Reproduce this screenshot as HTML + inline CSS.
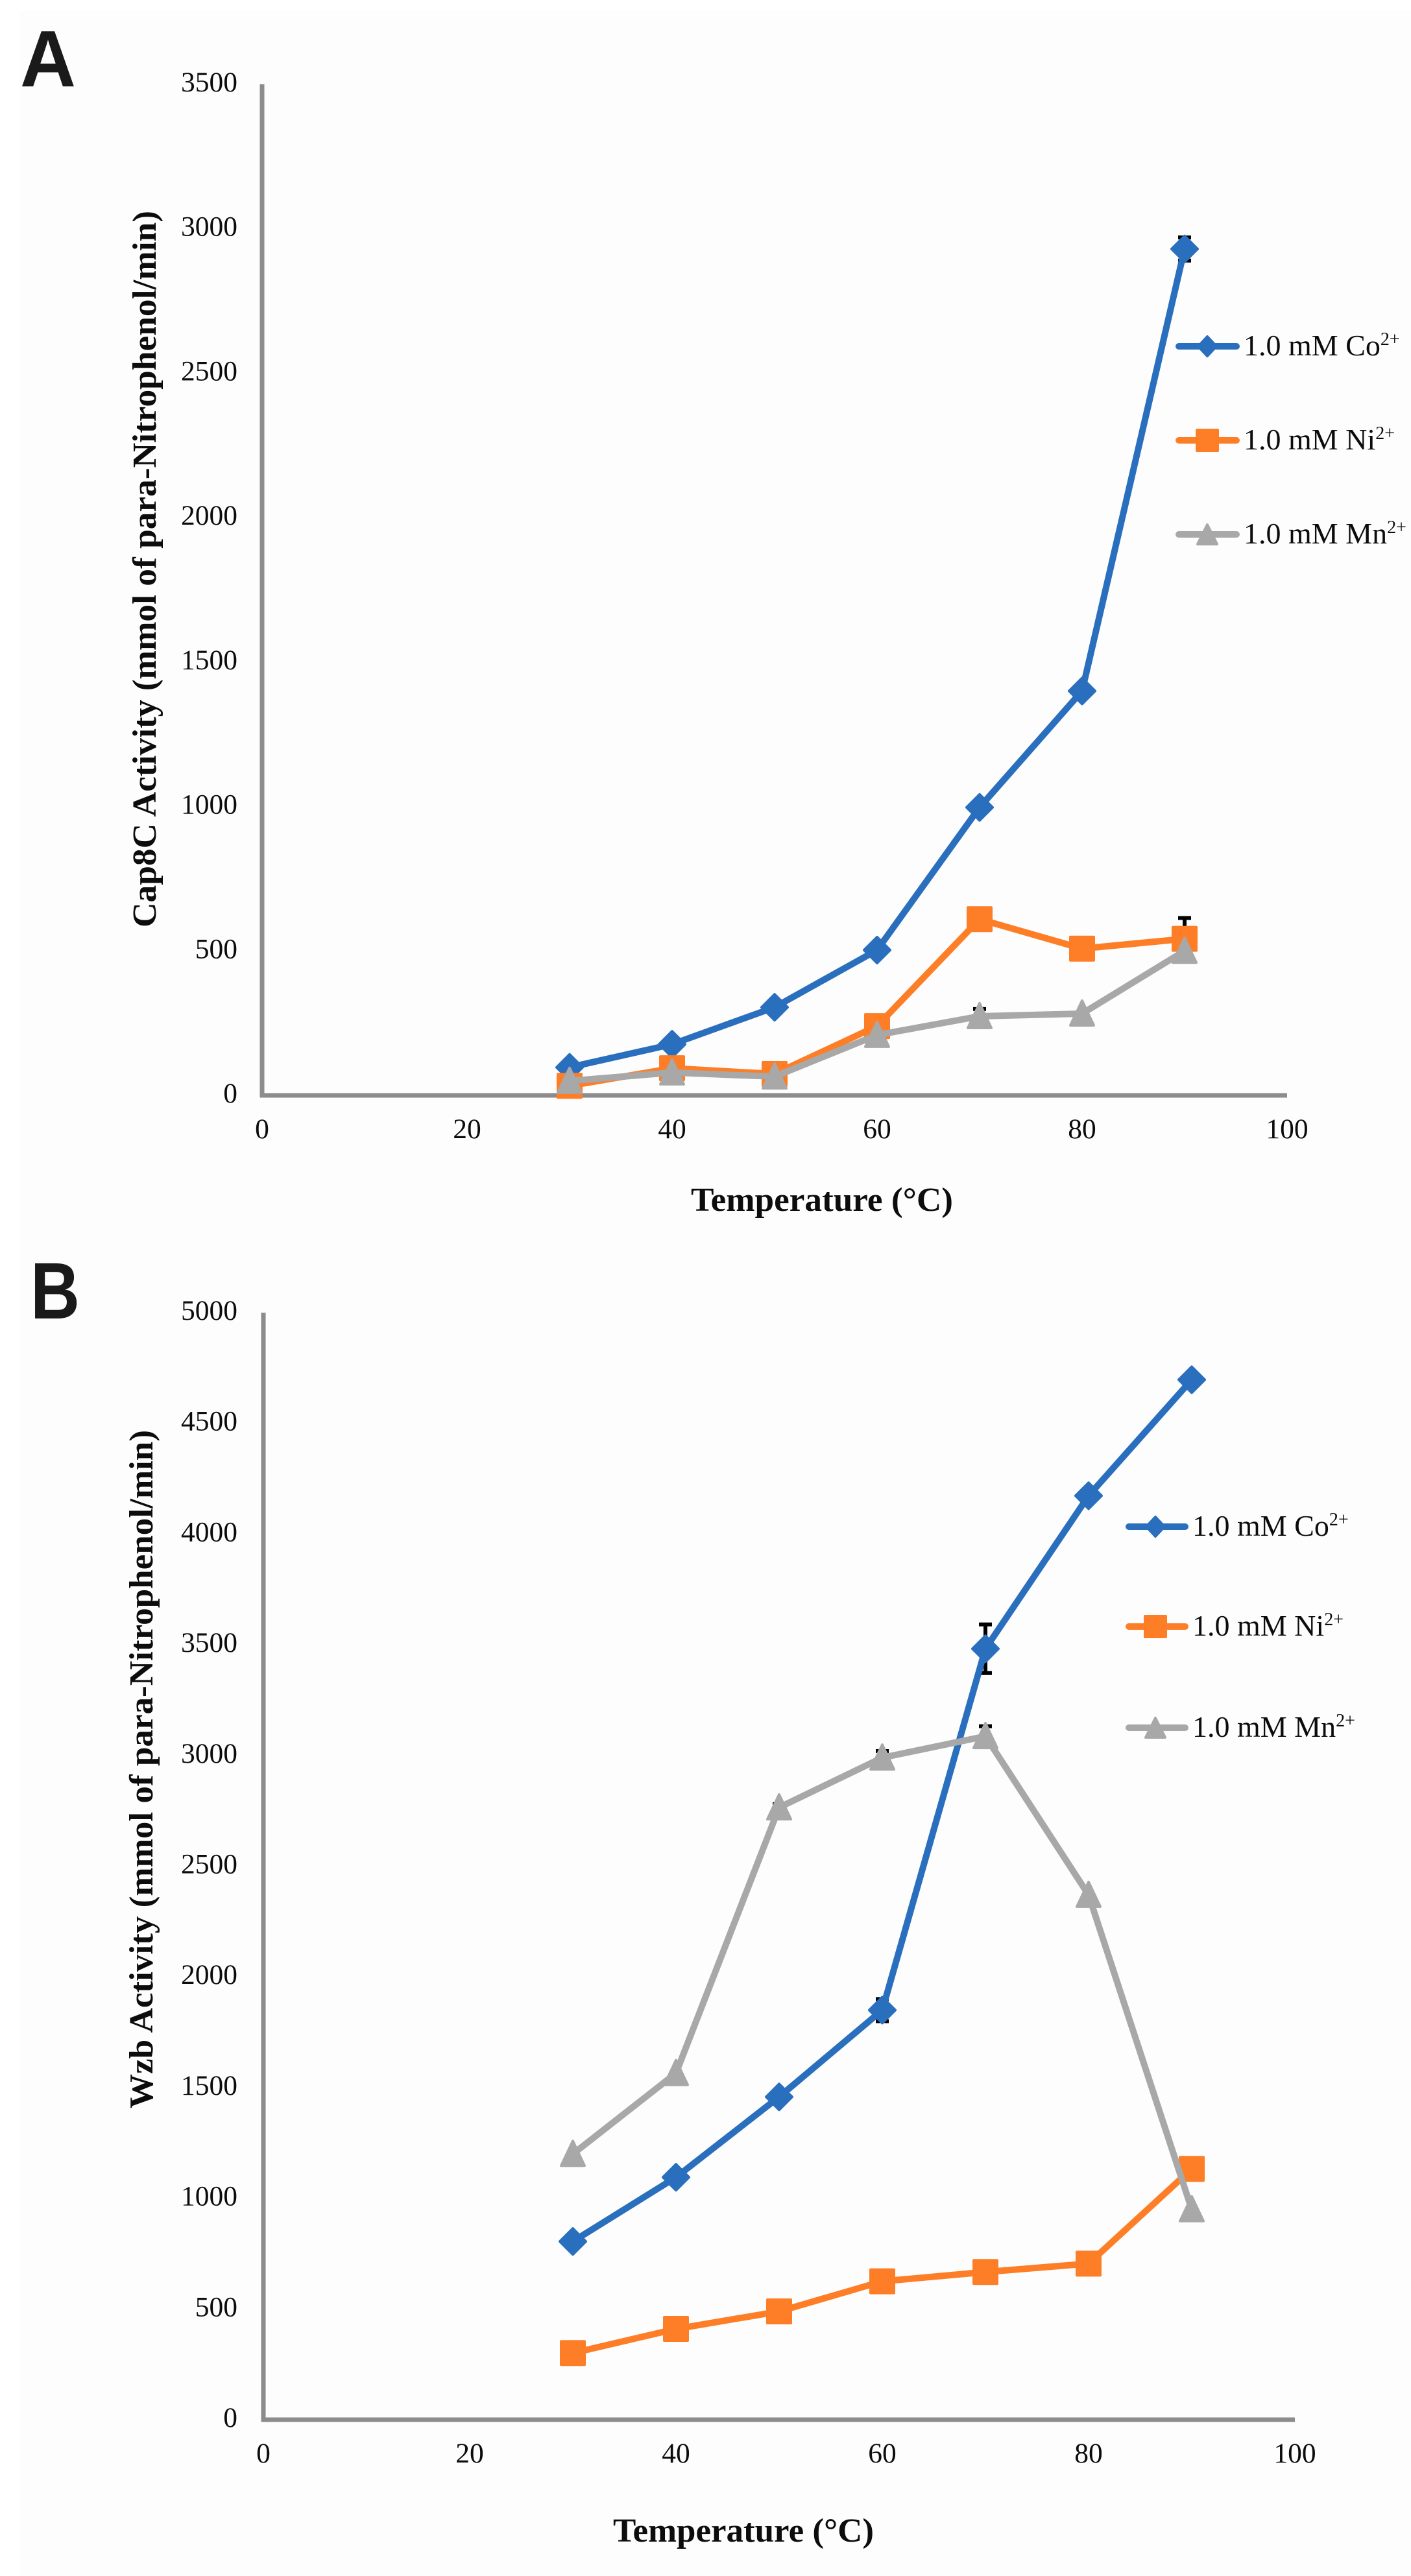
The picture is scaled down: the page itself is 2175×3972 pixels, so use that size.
<!DOCTYPE html>
<html lang="en">
<head>
<meta charset="utf-8">
<title>Cap8C and Wzb activity vs temperature</title>
<style>
html,body{margin:0;padding:0;background:#fff;}
svg{display:block;}
text{font-family:"Liberation Serif",serif;fill:#0c0c0c;}
.tick{font-size:43.5px;}
.axis-title{font-size:52px;font-weight:bold;}
.legend-text{font-size:46px;}
.panel-letter{font-family:"Liberation Sans",sans-serif;font-size:123px;font-weight:bold;fill:#1a1a1a;}
</style>
</head>
<body>
<svg id="figure" xmlns="http://www.w3.org/2000/svg" width="2175" height="3972" viewBox="0 0 2175 3972">
  <rect x="30" y="17" width="2145" height="3955" fill="#fdfdfd"/>

  <text class="panel-letter" x="31" y="133" textLength="86" lengthAdjust="spacingAndGlyphs">A</text>
  <text class="panel-letter" x="47" y="2033" textLength="76" lengthAdjust="spacingAndGlyphs">B</text>

  <g id="panel-a"></g>
  <g id="panel-b"></g>

  <text class="axis-title" transform="translate(240,1430) rotate(-90)" textLength="1105" lengthAdjust="spacingAndGlyphs">Cap8C Activity (mmol of para-Nitrophenol/min)</text>
  <text class="axis-title" x="1065" y="1867" textLength="404" lengthAdjust="spacingAndGlyphs">Temperature (°C)</text>
  <text class="axis-title" transform="translate(235,3251) rotate(-90)" textLength="1046" lengthAdjust="spacingAndGlyphs">Wzb Activity (mmol of para-Nitrophenol/min)</text>
  <text class="axis-title" x="945" y="3919" textLength="402" lengthAdjust="spacingAndGlyphs">Temperature (°C)</text>

  <g>
    <g>
      <line x1="1817" y1="534" x2="1906" y2="534" stroke="#2a6fbd" stroke-width="10" stroke-linecap="round"/>
      <polygon points="1861,519 1875,534 1861,549 1847,534" fill="#2a6fbd" stroke="#2a6fbd" stroke-width="4" stroke-linejoin="round"/>
      <text class="legend-text" x="1917" y="548">1.0 mM Co<tspan font-size="28" dy="-16">2+</tspan></text>
    </g>
    <g>
      <line x1="1817" y1="679" x2="1906" y2="679" stroke="#fd7e26" stroke-width="10" stroke-linecap="round"/>
      <rect x="1845" y="663" width="32" height="32" fill="#fd7e26" stroke="#fd7e26" stroke-width="4" stroke-linejoin="round"/>
      <text class="legend-text" x="1917" y="693">1.0 mM Ni<tspan font-size="28" dy="-16">2+</tspan></text>
    </g>
    <g>
      <line x1="1817" y1="824" x2="1906" y2="824" stroke="#a8a8a8" stroke-width="10" stroke-linecap="round"/>
      <polygon points="1861,809 1876,839 1846,839" fill="#a8a8a8" stroke="#a8a8a8" stroke-width="4" stroke-linejoin="round"/>
      <text class="legend-text" x="1917" y="838">1.0 mM Mn<tspan font-size="28" dy="-16">2+</tspan></text>
    </g>
  </g>

  <g>
    <g>
      <line x1="1740" y1="2354" x2="1827" y2="2354" stroke="#2a6fbd" stroke-width="10" stroke-linecap="round"/>
      <polygon points="1781,2339 1795,2354 1781,2369 1767,2354" fill="#2a6fbd" stroke="#2a6fbd" stroke-width="4" stroke-linejoin="round"/>
      <text class="legend-text" x="1838" y="2368">1.0 mM Co<tspan font-size="28" dy="-16">2+</tspan></text>
    </g>
    <g>
      <line x1="1740" y1="2508" x2="1827" y2="2508" stroke="#fd7e26" stroke-width="10" stroke-linecap="round"/>
      <rect x="1765" y="2492" width="32" height="32" fill="#fd7e26" stroke="#fd7e26" stroke-width="4" stroke-linejoin="round"/>
      <text class="legend-text" x="1838" y="2522">1.0 mM Ni<tspan font-size="28" dy="-16">2+</tspan></text>
    </g>
    <g>
      <line x1="1740" y1="2664" x2="1827" y2="2664" stroke="#a8a8a8" stroke-width="10" stroke-linecap="round"/>
      <polygon points="1781,2649 1796,2679 1766,2679" fill="#a8a8a8" stroke="#a8a8a8" stroke-width="4" stroke-linejoin="round"/>
      <text class="legend-text" x="1838" y="2678">1.0 mM Mn<tspan font-size="28" dy="-16">2+</tspan></text>
    </g>
  </g>
</svg>

<script>
// Shared categories and tick labels
const temperatures = [30, 40, 50, 60, 70, 80, 90];
const xTickLabels = [0, 20, 40, 60, 80, 100];
const yTickLabelsA = [0, 500, 1000, 1500, 2000, 2500, 3000, 3500];
const yTickLabelsB = [0, 500, 1000, 1500, 2000, 2500, 3000, 3500, 4000, 4500, 5000];

// Panel A series values
const coValuesA = [97, 177, 305, 503, 997, 1400, 2930];
const niValuesA = [33, 94, 74, 240, 610, 508, 542];
const mnValuesA = [50, 79, 65, 209, 274, 283, 500];
const coErrorsA = [0, 0, 0, 0, 0, 0, 40];
const niErrorsA = [0, 0, 0, 0, 0, 0, 72];
const mnErrorsA = [0, 0, 0, 0, 25, 0, 0];

// Panel B series values
const coValuesB = [805, 1095, 1458, 1850, 3482, 4173, 4697];
const niValuesB = [301, 410, 489, 625, 667, 705, 1133];
const mnValuesB = [1200, 1565, 2765, 2990, 3087, 2370, 950];
const coErrorsB = [0, 0, 0, 50, 110, 0, 0];
const niErrorsB = [0, 0, 0, 0, 0, 0, 0];
const mnErrorsB = [0, 0, 15, 30, 45, 0, 0];

const SVG_NS = 'http://www.w3.org/2000/svg';
const COLORS = { co: '#2a6fbd', ni: '#fd7e26', mn: '#a8a8a8' };
const AXIS_COLOR = '#8c8c8c';
const ERROR_COLOR = '#000000';

function make(tag, parent) {
  const el = document.createElementNS(SVG_NS, tag);
  parent.appendChild(el);
  return el;
}

function drawMarker(parent, kind, cx, cy) {
  const color = COLORS[kind];
  let el;
  if (kind === 'co') {
    el = make('polygon', parent);
    el.setAttribute('points', [[cx, cy - 20], [cx + 20, cy], [cx, cy + 20], [cx - 20, cy]].join(' '));
  } else if (kind === 'ni') {
    el = make('rect', parent);
    el.setAttribute('x', cx - 18);
    el.setAttribute('y', cy - 18);
    el.setAttribute('width', 36);
    el.setAttribute('height', 36);
  } else {
    el = make('polygon', parent);
    el.setAttribute('points', [[cx, cy - 20], [cx + 18, cy + 18], [cx - 18, cy + 18]].join(' '));
  }
  el.setAttribute('fill', color);
  el.setAttribute('stroke', color);
  el.setAttribute('stroke-width', 4);
  el.setAttribute('stroke-linejoin', 'round');
  
  
}

function drawErrorBars(parent, xs, values, errors, sx, sy) {
  xs.forEach(function (t, i) {
    if (!errors[i]) return;
    const x = sx(t);
    const top = sy(values[i] + errors[i]);
    const bottom = sy(values[i] - errors[i]);
    const bar = make('path', parent);
    bar.setAttribute('d', 'M' + (x - 10) + ' ' + top + 'H' + (x + 10) + 'M' + x + ' ' + top + 'V' + bottom + 'M' + (x - 10) + ' ' + bottom + 'H' + (x + 10));
    bar.setAttribute('stroke', ERROR_COLOR);
    bar.setAttribute('stroke-width', 6);
    bar.setAttribute('fill', 'none');
    
    
  });
}

function drawSeries(parent, kind, xs, values, sx, sy) {
  const line = make('polyline', parent);
  line.setAttribute('points', xs.map(function (t, i) { return sx(t) + ',' + sy(values[i]); }).join(' '));
  line.setAttribute('fill', 'none');
  line.setAttribute('stroke', COLORS[kind]);
  line.setAttribute('stroke-width', 10);
  line.setAttribute('stroke-linejoin', 'round');
  
  
  xs.forEach(function (t, i) {
    drawMarker(parent, kind, sx(t), sy(values[i]));
  });
}

function drawPanel(root, geom, yTicks, xs, series, errors) {
  const yMax = yTicks[yTicks.length - 1];
  const sx = function (v) { return geom.x0 + (v / 100) * geom.w; };
  const sy = function (v) { return geom.y0 - (v / yMax) * geom.h; };

  const yAxis = make('line', root);
  yAxis.setAttribute('x1', geom.x0);
  yAxis.setAttribute('x2', geom.x0);
  yAxis.setAttribute('y1', geom.y0 + 3);
  yAxis.setAttribute('y2', geom.y0 - geom.h);
  yAxis.setAttribute('stroke', AXIS_COLOR);
  yAxis.setAttribute('stroke-width', 7);
  
  

  const xAxis = make('line', root);
  xAxis.setAttribute('x1', geom.x0 - 3);
  xAxis.setAttribute('x2', geom.x0 + geom.w);
  xAxis.setAttribute('y1', geom.y0);
  xAxis.setAttribute('y2', geom.y0);
  xAxis.setAttribute('stroke', AXIS_COLOR);
  xAxis.setAttribute('stroke-width', 7);
  
  

  yTicks.forEach(function (v) {
    const t = make('text', root);
    t.setAttribute('class', 'tick');
    t.setAttribute('x', 366);
    t.setAttribute('y', sy(v) + 11);
    t.setAttribute('text-anchor', 'end');
    
    
    t.textContent = v;
  });

  xTickLabels.forEach(function (v) {
    const t = make('text', root);
    t.setAttribute('class', 'tick');
    t.setAttribute('x', sx(v));
    t.setAttribute('y', geom.y0 + 66);
    t.setAttribute('text-anchor', 'middle');
    
    
    t.textContent = v;
  });

  drawErrorBars(root, xs, series.co, errors.co, sx, sy);
  drawErrorBars(root, xs, series.ni, errors.ni, sx, sy);
  drawErrorBars(root, xs, series.mn, errors.mn, sx, sy);
  drawSeries(root, 'co', xs, series.co, sx, sy);
  drawSeries(root, 'ni', xs, series.ni, sx, sy);
  drawSeries(root, 'mn', xs, series.mn, sx, sy);
}

drawPanel(document.getElementById('panel-a'),
  { x0: 404, y0: 1689, w: 1580, h: 1559 },
  yTickLabelsA, temperatures,
  { co: coValuesA, ni: niValuesA, mn: mnValuesA },
  { co: coErrorsA, ni: niErrorsA, mn: mnErrorsA });

drawPanel(document.getElementById('panel-b'),
  { x0: 406, y0: 3731, w: 1590, h: 1707 },
  yTickLabelsB, temperatures,
  { co: coValuesB, ni: niValuesB, mn: mnValuesB },
  { co: coErrorsB, ni: niErrorsB, mn: mnErrorsB });
</script>
</body>
</html>
